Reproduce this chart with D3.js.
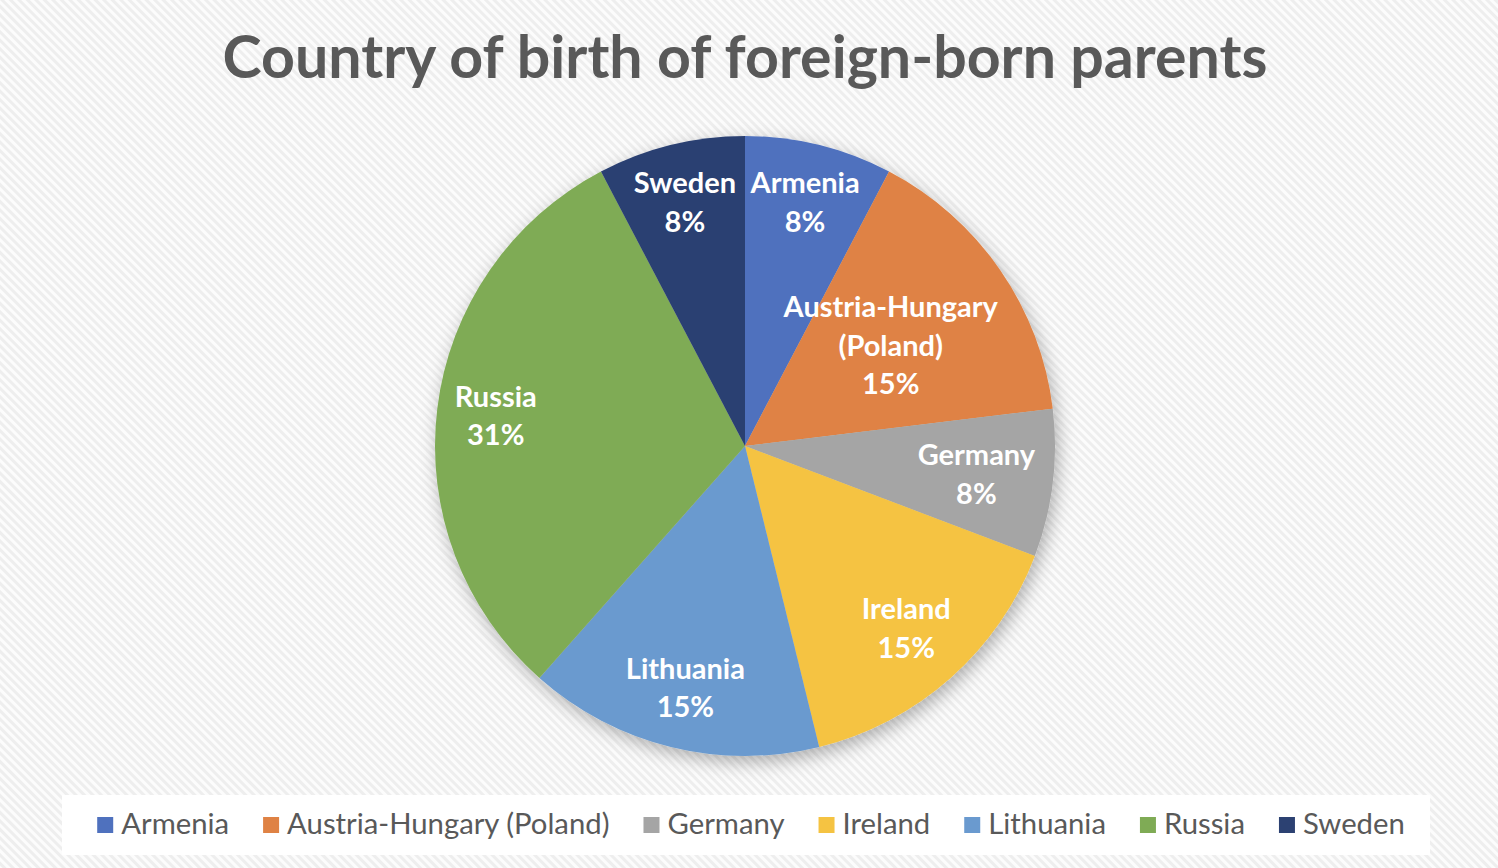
<!DOCTYPE html>
<html>
<head>
<meta charset="utf-8">
<script src="https://cdn.jsdelivr.net/npm/d3@7"></script>
<style>
  html, body { margin: 0; padding: 0; background: #fff; }
  svg { display: block; }
</style>
</head>
<body>
<div id="chart"></div>
<script>
// Chart data
const categories = ["Armenia", "Austria-Hungary (Poland)", "Germany", "Ireland", "Lithuania", "Russia", "Sweden"];
const counts = [1, 2, 1, 2, 2, 4, 1];
const sliceColors = ["#4f71be", "#df8244", "#a5a5a5", "#f5c342", "#6a9acf", "#7fab55", "#2c4172"];
const chartTitle = "Country of birth of foreign-born parents";

const width = 1498, height = 868;
const cx = 745, cy = 446, radius = 310;
const fontFamily = "Lato, 'Open Sans', sans-serif";
const pctFormat = d3.format(".0%");

const svg = d3.select("#chart")
    .append("svg")
    .attr("width", width)
    .attr("height", height);

const defs = svg.append("defs");

// Diagonal hatch background
const pattern = defs.append("pattern")
    .attr("id", "hatch")
    .attr("patternUnits", "userSpaceOnUse")
    .attr("width", 6)
    .attr("height", 6)
    .attr("patternTransform", "rotate(-45)");
pattern.append("rect").attr("width", 6).attr("height", 6).attr("fill", "#fcfcfc");
pattern.append("rect").attr("width", 3).attr("height", 6).attr("fill", "#eeeeee");

// Soft shadow under the pie
const shadow = defs.append("filter")
    .attr("id", "shadow")
    .attr("x", "-20%").attr("y", "-20%")
    .attr("width", "140%").attr("height", "140%");
shadow.append("feDropShadow")
    .attr("dx", 3)
    .attr("dy", 6)
    .attr("stdDeviation", 9)
    .attr("flood-color", "#000")
    .attr("flood-opacity", 0.3);

svg.append("rect")
    .attr("width", width)
    .attr("height", height)
    .attr("fill", "url(#hatch)");

// Title, sized to the reference width
const title = svg.append("text")
    .attr("x", cx)
    .attr("y", 78)
    .attr("text-anchor", "middle")
    .attr("font-family", fontFamily)
    .attr("font-weight", 700)
    .attr("font-size", 100)
    .attr("fill", "#595959")
    .text(chartTitle);
const titleW = title.node().getComputedTextLength();
title.attr("font-size", 100 * 1045 / titleW);

// Pie
const total = d3.sum(counts);
const data = categories.map((name, i) => ({name: name, value: counts[i], color: sliceColors[i]}));

const pie = d3.pie()
    .sort(null)
    .value(d => d.value);

const arc = d3.arc()
    .innerRadius(0)
    .outerRadius(radius);

const arcs = pie(data);

const pieG = svg.append("g")
    .attr("transform", `translate(${cx},${cy})`);

pieG.append("g")
    .attr("filter", "url(#shadow)")
    .selectAll("path")
    .data(arcs)
    .join("path")
    .attr("d", arc)
    .attr("fill", d => d.data.color);

// Data labels: name (split on space for the long one) + percent
const labelSize = 29;
const lineH = 38.4;
const capH = labelSize * 0.72;

arcs.forEach(a => {
    const lines = a.data.name.split(" ").concat([pctFormat(a.data.value / total)]);
    const g = pieG.append("g");
    const t = g.append("text")
        .attr("text-anchor", "middle")
        .attr("font-family", fontFamily)
        .attr("font-weight", 700)
        .attr("font-size", labelSize)
        .attr("fill", "#fff");
    lines.forEach((l, i) => {
        t.append("tspan")
            .attr("x", 0)
            .attr("y", (i - (lines.length - 1) / 2) * lineH + capH / 2)
            .text(l);
    });

    // best fit: push the label outward along the mid angle while the box stays inside the pie
    const bw = t.node().getBBox().width / 2 + 12;
    const bh = lines.length * lineH / 2;
    const mid = (a.startAngle + a.endAngle) / 2;
    let r = radius * 0.81;
    const fits = r => {
        const x = Math.sin(mid) * r, y = -Math.cos(mid) * r;
        return [[-1, -1], [1, -1], [-1, 1], [1, 1]]
            .every(([sx, sy]) => Math.hypot(x + sx * bw, y + sy * bh) <= radius);
    };
    while (r > 0 && !fits(r)) r -= 1;
    g.attr("transform", `translate(${Math.sin(mid) * r},${-Math.cos(mid) * r})`);
});

// Legend
const legendG = svg.append("g");
legendG.append("rect")
    .attr("x", 62)
    .attr("y", 795)
    .attr("width", 1368)
    .attr("height", 60)
    .attr("fill", "#ffffff");

const swatch = 16, swatchGap = 8, itemGap = 34;
const items = legendG.selectAll("g.item")
    .data(data)
    .join("g")
    .attr("class", "item");

items.append("rect")
    .attr("width", swatch)
    .attr("height", swatch)
    .attr("y", -swatch - 1)
    .attr("fill", d => d.color);

const legendTexts = items.append("text")
    .attr("x", swatch + swatchGap)
    .attr("y", 0)
    .attr("font-family", fontFamily)
    .attr("font-size", 28)
    .attr("fill", "#595959")
    .text(d => d.name);

// size legend text so the row spans the same width as the reference
let textSum = 0;
legendTexts.each(function() { textSum += this.getComputedTextLength(); });
const legendSpan = 1308;
const textTarget = legendSpan - data.length * (swatch + swatchGap) - itemGap * (data.length - 1);
legendTexts.attr("font-size", 28 * textTarget / textSum);

const itemW = [];
legendTexts.each(function() { itemW.push(swatch + swatchGap + this.getComputedTextLength()); });
const legendTotal = d3.sum(itemW) + itemGap * (itemW.length - 1);
let lx = 751 - legendTotal / 2;
items.attr("transform", (d, i) => {
    const x = lx;
    lx += itemW[i] + itemGap;
    return `translate(${x},834)`;
});
</script>
</body>
</html>
